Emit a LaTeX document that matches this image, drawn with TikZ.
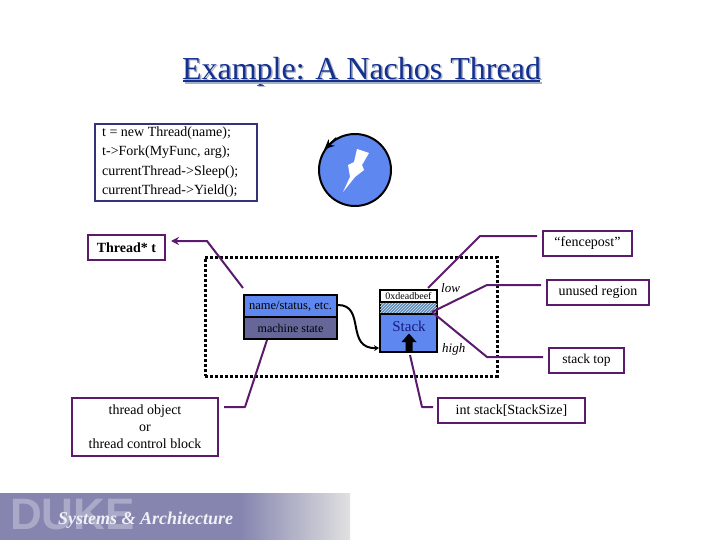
\documentclass[tikz,border=0pt]{standalone}
\usepackage{fontspec}
\setmainfont{Liberation Serif}
\setsansfont{Liberation Sans}
\usetikzlibrary{arrows.meta, patterns}
\definecolor{mNavy}{HTML}{333377}
\definecolor{mPurple}{HTML}{5B1A6B}
\definecolor{mBlue}{HTML}{5F87F0}
\definecolor{mSlate}{HTML}{666699}
\definecolor{mHatch}{HTML}{5F8FB8}
\definecolor{mBand}{HTML}{8585B0}
\definecolor{mTitle}{HTML}{14308F}
\definecolor{mShadow}{HTML}{A8AEC4}
\definecolor{mInk}{HTML}{1A1A80}
\newcommand{\fs}[1]{\fontsize{#1}{#1}\selectfont}

\begin{document}
\begin{tikzpicture}[x=1pt, y=-1pt,
      label/.style={draw=mPurple, line width=2pt, fill=white, inner sep=0pt, font=\fs{14}, align=center},
      link/.style={draw=mPurple, line width=2pt, line join=round},
      cell/.style={draw=black, line width=2pt, inner sep=0pt, font=\fs{12.5}},
      tag/.style={inner sep=0pt, font=\itshape\fs{13}}]
    \useasboundingbox (0,0) rectangle (720,540);
    % title with its shadow
    \node[anchor=base, inner sep=0pt, text=mShadow, font=\fs{32}] (titleshadow) at (363,81) {Example: A Nachos Thread};
    \node[anchor=base, inner sep=0pt, text=mTitle, font=\fs{32}] (title) at (361.5,79.5) {Example: A Nachos Thread};
    \coordinate (ulA) at (183,81.5);
    \coordinate (ulB) at (540,81.5);
    \draw[mShadow, line width=2pt] ([shift={(1.5,1.5)}]ulA) -- ([shift={(1.5,1.5)}]ulB);
    \draw[mTitle, line width=2pt] (ulA) -- (ulB);
    % code
    \node[draw=mNavy, line width=2pt, minimum width=162pt, minimum height=77pt, inner sep=0pt] (code) at (176,162.5) {};
    \node[anchor=west, inner sep=0pt, align=left, font=\fontsize{14}{19.3}\selectfont] (codetext) at (102,162)
        {t = new Thread(name);\\t->Fork(MyFunc, arg);\\currentThread->Sleep();\\currentThread->Yield();};
    % cpu
    \node[circle, draw=black, line width=2pt, fill=mBlue, minimum size=72pt, inner sep=0pt] (cpu) at (355,170) {};
    \fill[white] (357,149) -- (369,153) -- (362,165) -- (364,170) -- (355,177) -- (343,192) -- (350,177) -- (348,165) -- (354,162) -- cycle;
    \draw[black, line width=2pt, -{Stealth[length=10pt,width=9pt]}] (cpu.120) -- (cpu.146);
    % frame
    \node[draw=black, line width=3pt, dash pattern=on 3pt off 2pt, minimum width=292pt, minimum height=119pt, inner sep=0pt] (frame) at (351,316.5) {};
    % thread object
    \node[cell, fill=mBlue, minimum width=93pt, minimum height=22pt] (namebox) at (290.5,306) {name/status, etc.};
    \node[cell, fill=mSlate, minimum width=93pt, minimum height=22pt, font=\fs{12}] (machinebox) at (290.5,328) {machine state};
    % stack
    \node[cell, fill=mHatch, postaction={pattern=north east lines, pattern color=white!75!mHatch}, minimum width=57pt, minimum height=12pt] (hatchbox) at (408.5,308) {};
    \node[cell, fill=mBlue, minimum width=57pt, minimum height=38pt] (stackbody) at (408.5,333) {};
    \node[cell, fill=white, minimum width=57pt, minimum height=12pt, font=\fs{10}] (deadbeef) at (408.5,296) {0xdeadbeef};
    \node[inner sep=0pt, text=mInk, font=\fs{15}] (stacktext) at (409,326) {Stack};
    \fill[black] (405.5,351) -- (405.5,342) -- (401.5,342) -- (409,333.5) -- (416.5,342) -- (412.5,342) -- (412.5,351) -- cycle;
    \node[tag, anchor=west] (lowtag) at (441,288) {low};
    \node[tag, anchor=west] (hightag) at (442,349) {high};
    \draw[black, line width=2pt, -{Stealth[length=5pt,width=6pt]}] (namebox.east |- 0,305) .. controls (366,305) and (345,349) .. (stackbody.west |- 0,348);
    % labels
    \node[label, font=\bfseries\fs{14}, minimum width=77pt, minimum height=25pt] (threadptr) at (126.5,247.5) {Thread* t};
    \node[label, minimum width=89pt, minimum height=25pt] (fencepost) at (587.5,243.5) {“fencepost”};
    \node[label, minimum width=102pt, minimum height=25pt] (unused) at (598,292.5) {unused region};
    \node[label, font=\fs{13.5}, minimum width=75pt, minimum height=25pt] (stacktop) at (586.5,360.5) {stack top};
    \node[label, minimum width=147pt, minimum height=25pt] (intstack) at (511.5,410.5) {int stack[StackSize]};
    \node[label, minimum width=146pt, minimum height=58pt, font=\fontsize{14}{17}\selectfont] (tcb) at (145,427) {thread object\\or\\thread control block};
    % connectors
    \coordinate (threadbend) at (207,241);
    \coordinate (threadend) at (243,288);
    \coordinate (fencebend) at (480,236);
    \coordinate (fenceend) at (428,288);
    \coordinate (unusedbend) at (487,285);
    \coordinate (topbend) at (487,357);
    \coordinate (hatchpt) at (432,312);
    \coordinate (intbend) at (422,407);
    \coordinate (intend) at (410,355);
    \coordinate (tcbbend) at (245,407);
    \coordinate (tcbend) at (267,340);
    \draw[link, -{Stealth[length=8pt,width=8pt]}, shorten >=5pt] (threadend) -- (threadbend) -- (threadptr.east |- threadbend);
    \draw[link, shorten <=5pt] (fencepost.west |- fencebend) -- (fencebend) -- (fenceend);
    \draw[link, shorten <=5pt] (unused.west |- unusedbend) -- (unusedbend) -- (hatchpt);
    \draw[link, shorten <=5pt] (stacktop.west |- topbend) -- (topbend) -- (hatchpt);
    \draw[link, shorten <=4pt] (intstack.west |- intbend) -- (intbend) -- (intend);
    \draw[link, shorten <=5pt] (tcb.east |- tcbbend) -- (tcbbend) -- (tcbend);
    % footer band
    \node[fill=mBand, minimum width=240pt, minimum height=47pt, inner sep=0pt, anchor=north west] (band) at (0,493) {};
    \shade[left color=mBand, right color=white!88!black] (240,493) rectangle (350,540);
    \node[anchor=west, inner sep=0pt, text=white!30!mBand, font=\sffamily\bfseries\fs{44}] (duke) at (10,514.5) {DUKE};
    \node[anchor=west, inner sep=0pt, text=white!88!mBand, font=\bfseries\itshape\fs{18}] (systems) at (58,520) {Systems \& Architecture};
  \end{tikzpicture}
\end{document}
